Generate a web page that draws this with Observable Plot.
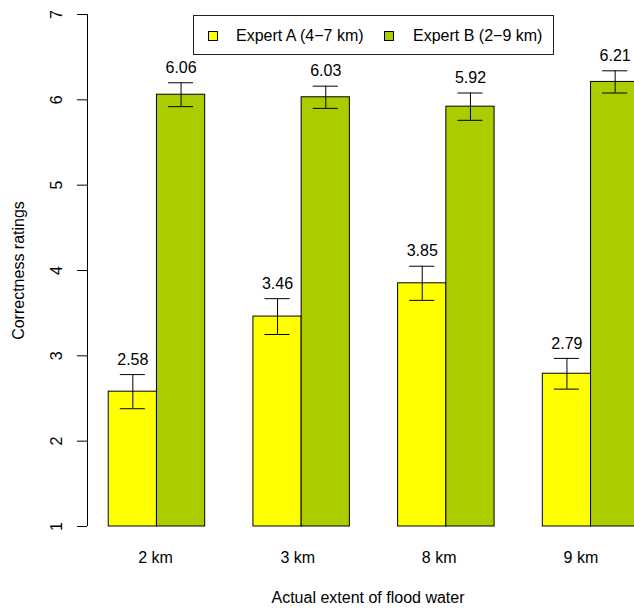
<!DOCTYPE html>
<html>
<head>
<meta charset="utf-8">
<script src="https://cdn.jsdelivr.net/npm/d3@7"></script>
<script src="https://cdn.jsdelivr.net/npm/@observablehq/plot@0.6"></script>
<style>
  html, body { margin: 0; padding: 0; background: #fff; overflow: hidden; }
  #wrap { position: relative; width: 700px; height: 609px; font-family: "Liberation Sans", Arial, Helvetica, sans-serif; }
  #legend { position: absolute; left: 193px; top: 15px; width: 359px; height: 38px; border: 1px solid #222; background: #fff; font-size: 16px; color: #000; }
  #legend .item { position: absolute; top: 1px; height: 38px; line-height: 38px; white-space: nowrap; }
  #legend .sw { position: absolute; top: 15px; width: 8px; height: 8px; border: 1px solid #000; }
</style>
</head>
<body>
<div id="wrap"></div>
<script>
// ---- data ----
const groups = ["2 km", "3 km", "8 km", "9 km"];
const series = ["Expert A (4\u22127 km)", "Expert B (2\u22129 km)"];
const meansA = [2.58, 3.46, 3.85, 2.79];
const meansB = [6.06, 6.03, 5.92, 6.21];
const errA = [0.20, 0.21, 0.20, 0.18];
const errB = [0.14, 0.13, 0.16, 0.13];
const yTicks = [1, 2, 3, 4, 5, 6, 7];
const groupTickAt = [1.97, 4.92, 7.85, 10.79]; // where the group labels sit, in bar units
const colors = ["#FFFF00", "#ACCC00"];
const xTitle = "Actual extent of flood water";
const yTitle = "Correctness ratings";

// ---- layout (R barplot style: bars width 1, gap 1 between groups) ----
const means = [meansA, meansB];
const errs = [errA, errB];
const data = groups.flatMap((g, gi) => series.map((s, si) => {
  const x1 = gi * 3 + si + 1;
  return { group: g, series: s, x1, x2: x1 + 1, xc: x1 + 0.5,
           mean: means[si][gi], lo: means[si][gi] - errs[si][gi], hi: means[si][gi] + errs[si][gi] };
}));
const xMin = 1, xMax = groups.length * 3;
const ext = 0.04 * (xMax - xMin);
const xDomain = [xMin - ext, xMax + ext];
const half = 0.26;

const font = 16;
const chart = Plot.plot({
  width: 700,
  height: 609,
  marginLeft: 87,
  marginRight: 40,
  marginTop: 14,
  marginBottom: 83,
  style: { fontFamily: "'Liberation Sans', Arial, Helvetica, sans-serif", fontSize: "16px", background: "white" },
  x: { domain: xDomain, axis: null },
  y: { domain: [1, 7], axis: null },
  color: { domain: series, range: colors },
  marks: [
    Plot.rectY(data, { x1: "x1", x2: "x2", y1: d => 1, y2: "mean", fill: "series", stroke: "#000", strokeWidth: 1 }),
    Plot.ruleX(data, { x: "xc", y1: "lo", y2: "hi", stroke: "#000", strokeWidth: 1 }),
    Plot.ruleY(data, { y: "hi", x1: d => d.xc - half, x2: d => d.xc + half, stroke: "#000", strokeWidth: 1 }),
    Plot.ruleY(data, { y: "lo", x1: d => d.xc - half, x2: d => d.xc + half, stroke: "#000", strokeWidth: 1 }),
    Plot.text(data, { x: "xc", y: "hi", dy: -15, text: d => d.mean.toFixed(2), fontSize: font, fill: "#000" }),
    // y axis
    Plot.ruleX([xDomain[0]], { y1: d => 1, y2: d => 7, stroke: "#000", strokeWidth: 1 }),
    Plot.axisY({ ticks: yTicks, tickSize: 10, tickFormat: () => "", label: null, stroke: "#000" }),
    Plot.text(yTicks, { y: d => d, frameAnchor: "left", textAnchor: "middle", lineAnchor: "middle", dx: -31, rotate: -90, text: d => String(d), fontSize: font, fill: "#000" }),
    Plot.text([yTitle], { frameAnchor: "left", textAnchor: "middle", lineAnchor: "middle", dx: -69, rotate: -90, text: d => d, fontSize: font, fill: "#000" }),
    // x labels
    Plot.text(groups, { x: (d, i) => groupTickAt[i], y: d => 1, dy: 31, text: d => d, fontSize: font, fill: "#000" }),
    Plot.text([xTitle], { frameAnchor: "bottom", textAnchor: "middle", lineAnchor: "middle", dx: -6, dy: 71, text: d => d, fontSize: font, fill: "#000" })
  ]
});
const wrap = document.getElementById("wrap");
wrap.appendChild(chart);

// legend
const leg = document.createElement("div");
leg.id = "legend";
const swX = [14, 190];
const txX = [42, 219];
series.forEach((s, i) => {
  const sw = document.createElement("div");
  sw.className = "sw";
  sw.style.left = swX[i] + "px";
  sw.style.background = colors[i];
  leg.appendChild(sw);
  const t = document.createElement("div");
  t.className = "item";
  t.style.left = txX[i] + "px";
  t.textContent = s;
  leg.appendChild(t);
});
wrap.appendChild(leg);
</script>
</body>
</html>
